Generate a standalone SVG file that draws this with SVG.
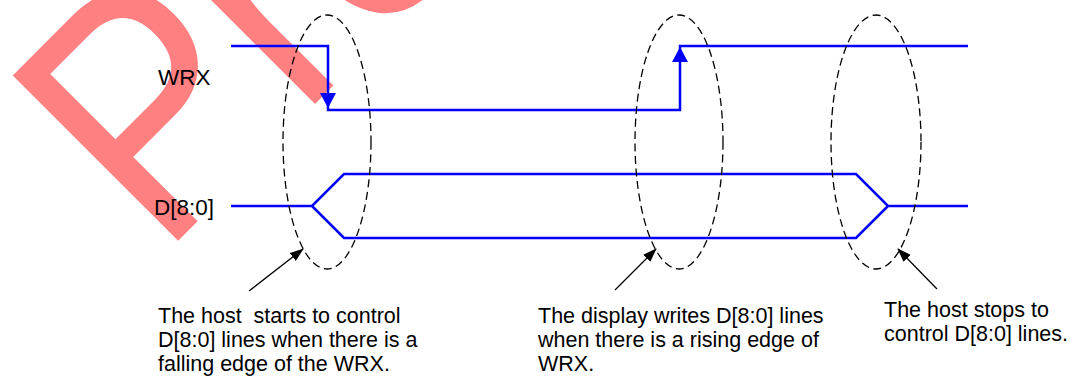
<svg xmlns="http://www.w3.org/2000/svg" width="1076" height="381" viewBox="0 0 1076 381">
<defs>
<style>
.sig{fill:none;stroke:#0000ff;stroke-width:2.5}
.ell{fill:none;stroke:#000;stroke-width:1.3;stroke-dasharray:8 4.5}
.ptr{fill:none;stroke:#000;stroke-width:1.3;marker-end:url(#ah)}
.lbl{font-family:"Liberation Sans",Arial,sans-serif;font-size:22.5px;fill:#000}
.note{font-family:"Liberation Sans",Arial,sans-serif;font-size:21.5px;fill:#000;white-space:pre}
.wm{font-family:"Liberation Sans",Arial,sans-serif;font-size:340px;fill:#ff8080}
</style>
<marker id="ah" viewBox="0 0 14 10" refX="13" refY="5" markerWidth="14" markerHeight="10" markerUnits="userSpaceOnUse" orient="auto">
<path d="M0,0 L14,5 L0,10 z" fill="#000"/>
</marker>
</defs>
<rect width="1076" height="381" fill="#fff"/>
<text class="wm" transform="translate(177,242) rotate(-45) scale(0.87,1)" x="-26" y="0">Pre</text>
<g id="connectors">
<path id="wrx-signal" class="sig" d="M231,46 H328 V110 H680 V46 H968"/>
<polygon points="328,108 320,93 336,93" fill="#0000ff"/>
<polygon points="680,47 672,62 688,62" fill="#0000ff"/>
<path id="d-signal" class="sig" d="M231,206 H312 L344,174 H856 L888,206 H968 M312,206 L344,238 H856 L888,206"/>
<line class="ptr" x1="249" y1="291" x2="303" y2="249"/>
<line class="ptr" x1="615" y1="290" x2="656" y2="249"/>
<line class="ptr" x1="937" y1="289" x2="898" y2="249"/>
</g>
<g id="label-wrx"><text class="lbl" x="158" y="85">WRX</text></g>
<g id="label-d"><text class="lbl" x="154" y="215">D[8:0]</text></g>
<g id="ellipse-falling"><ellipse class="ell" cx="327" cy="142" rx="44" ry="127"/></g>
<g id="ellipse-rising"><ellipse class="ell" cx="679" cy="142" rx="44" ry="127"/></g>
<g id="ellipse-stop"><ellipse class="ell" cx="876" cy="142" rx="45" ry="127"/></g>
<g id="note-start">
<text class="note" x="158" y="323" xml:space="preserve">The host  starts to control</text>
<text class="note" x="158" y="347">D[8:0] lines when there is a</text>
<text class="note" x="158" y="371">falling edge of the WRX.</text>
</g>
<g id="note-write">
<text class="note" x="538" y="323">The display writes D[8:0] lines</text>
<text class="note" x="538" y="347">when there is a rising edge of</text>
<text class="note" x="538" y="371">WRX.</text>
</g>
<g id="note-stop">
<text class="note" x="884" y="317">The host stops to</text>
<text class="note" x="884" y="341">control D[8:0] lines.</text>
</g>
</svg>
